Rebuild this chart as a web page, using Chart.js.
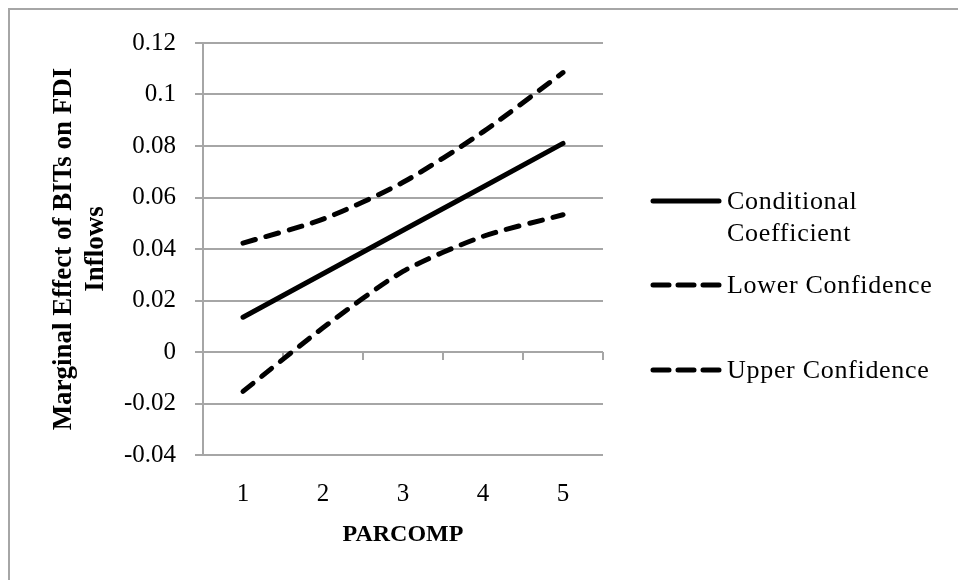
<!DOCTYPE html>
<html>
<head>
<meta charset="utf-8">
<script src="https://cdn.jsdelivr.net/npm/chart.js@4"></script>
<style>
  body { margin: 0; background: #fff; }
  #wrap { position: relative; width: 958px; height: 580px; overflow: hidden; }
  #frame { position: absolute; left: 8px; top: 8px; width: 1000px; height: 1000px;
           border-left: 2px solid #a6a6a6; border-top: 2px solid #a6a6a6; pointer-events: none; }
  .leg { position: absolute; font-family: "Liberation Serif", serif; font-size: 26px; letter-spacing: 0.7px;
         color: #000; line-height: 32px; white-space: nowrap; }
  .leg svg { position: absolute; left: 0; }
</style>
</head>
<body>
<div id="wrap">
  <canvas id="myChart" width="958" height="580"></canvas>
  <div id="frame"></div>
  <div id="legend"></div>
</div>
<script>
const categories = ['1', '2', '3', '4', '5'];
const conditional = [0.0135, 0.0304, 0.0473, 0.0641, 0.0810];
const lowerConf = [-0.0153, 0.0094, 0.0313, 0.0449, 0.0533];
const upperConf = [0.0423, 0.0516, 0.0659, 0.0855, 0.1085];
const yTickValues = [-0.04, -0.02, 0, 0.02, 0.04, 0.06, 0.08, 0.1, 0.12];
const seriesNames = ['Conditional Coefficient', 'Lower Confidence', 'Upper Confidence'];

const gridGray = '#a6a6a6';
Chart.defaults.font.family = '"Liberation Serif", serif';
Chart.defaults.color = '#000';

// small tick marks where the category axis crosses zero
const zeroTicks = {
  id: 'zeroTicks',
  beforeDatasetsDraw(chart) {
    const x = chart.scales.x, y = chart.scales.y;
    const ctx = chart.ctx;
    const y0 = y.getPixelForValue(0);
    const w = (x.right - x.left) / categories.length;
    ctx.save();
    ctx.strokeStyle = gridGray;
    ctx.lineWidth = 2;
    for (let i = 1; i <= categories.length; i++) {
      const px = x.left + i * w;
      ctx.beginPath();
      ctx.moveTo(px, y0);
      ctx.lineTo(px, y0 + 8);
      ctx.stroke();
    }
    ctx.restore();
  }
};

const ctx = document.getElementById('myChart');

new Chart(ctx, {
  type: 'line',
  data: {
    labels: categories,
    datasets: [
      { label: seriesNames[0], data: conditional, borderColor: '#000', borderWidth: 5,
        pointRadius: 0, tension: 0, borderCapStyle: 'round' },
      { label: seriesNames[1], data: lowerConf, borderColor: '#000', borderWidth: 5,
        pointRadius: 0, tension: 0.25, borderDash: [13, 11], borderCapStyle: 'round' },
      { label: seriesNames[2], data: upperConf, borderColor: '#000', borderWidth: 5,
        pointRadius: 0, tension: 0.25, borderDash: [13, 11], borderCapStyle: 'round' }
    ]
  },
  options: {
    responsive: false,
    animation: false,
    layout: { padding: { left: 0, top: 43, right: 355, bottom: 0 } },
    plugins: { legend: { display: false }, tooltip: { enabled: false } },
    scales: {
      x: {
        offset: true,
        grid: { display: false, drawTicks: false },
        border: { display: false },
        ticks: { font: { size: 25 }, padding: 24 },
        title: { display: true, text: 'PARCOMP', font: { size: 24, weight: 'bold' },
                 padding: { top: 0, bottom: 31 } },
        afterFit(s) { s.height = 125; }
      },
      y: {
        min: -0.04,
        max: 0.12,
        afterBuildTicks(s) { s.ticks = yTickValues.map(v => ({ value: v })); },
        grid: { color: gridGray, lineWidth: 2, tickLength: 8 },
        border: { color: gridGray, width: 2 },
        ticks: { font: { size: 25 }, padding: 19,
                 callback: v => String(parseFloat(v.toFixed(2))) },
        title: { display: true, text: ['Marginal Effect of BITs on FDI', 'Inflows'],
                 font: { size: 27, weight: 'bold', lineHeight: 1.185 },
                 padding: { top: 48, bottom: 0 } },
        afterFit(s) { s.width = 203; }
      }
    }
  },
  plugins: [zeroTicks]
});

// legend on the right
const legendItems = [
  { name: 'Conditional<br>Coefficient', dash: null, top: 185 },
  { name: seriesNames[1], dash: '16 9', top: 269 },
  { name: seriesNames[2], dash: '16 9', top: 354 }
];
const legend = document.getElementById('legend');
legendItems.forEach(it => {
  const d = document.createElement('div');
  d.className = 'leg';
  d.style.left = '650px';
  d.style.top = it.top + 'px';
  d.style.paddingLeft = '77px';
  d.innerHTML = '<svg width="72" height="32" style="top:0"><line x1="3" y1="16" x2="69" y2="16" stroke="#000" stroke-width="5" stroke-linecap="round"' +
    (it.dash ? ' stroke-dasharray="' + it.dash + '"' : '') + '/></svg>' + it.name;
  legend.appendChild(d);
});
</script>
</body>
</html>
